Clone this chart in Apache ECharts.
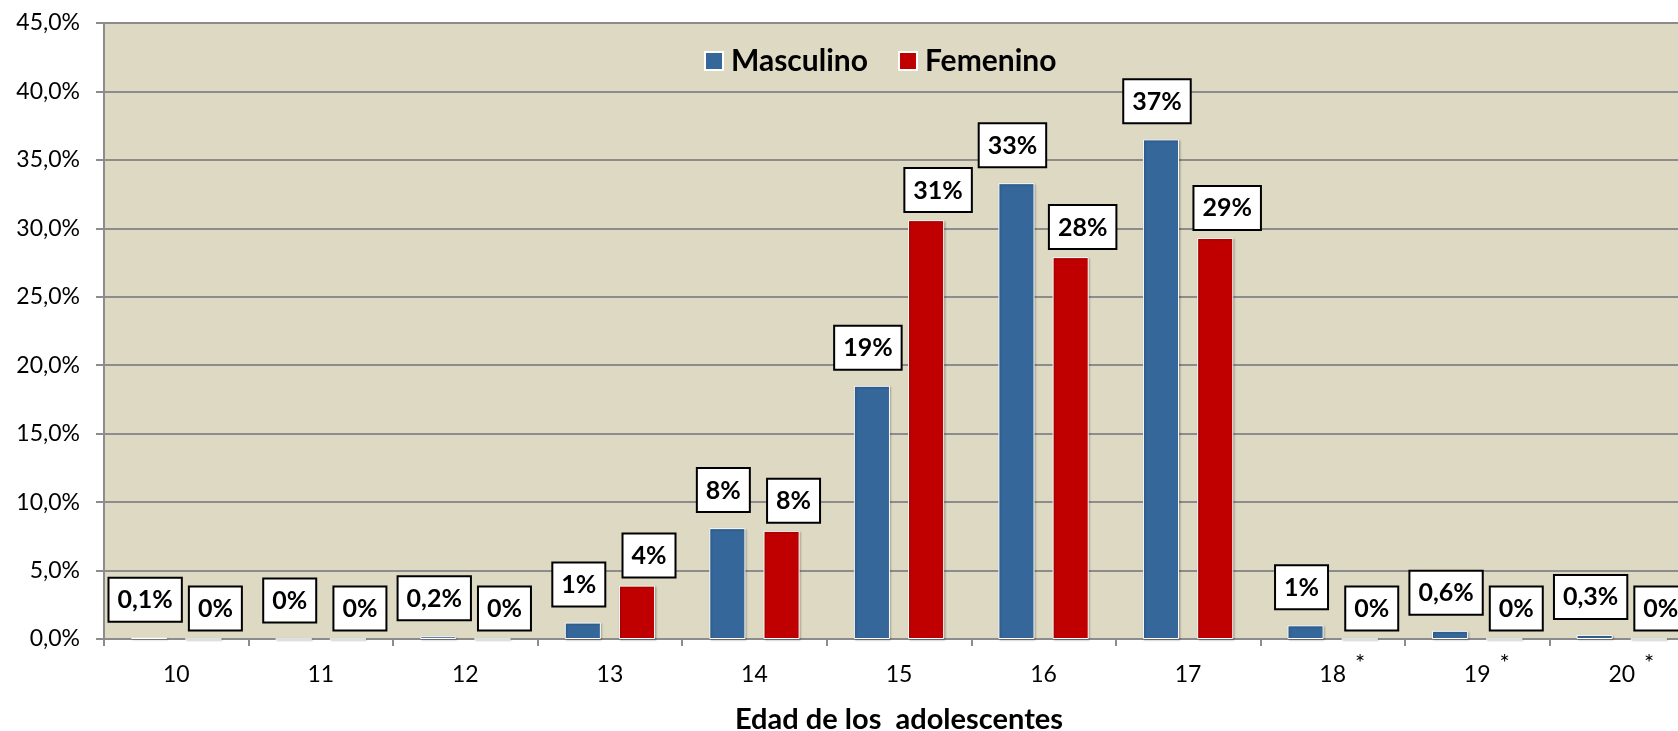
<!DOCTYPE html>
<html>
<head>
<meta charset="utf-8">
<script src="https://cdn.jsdelivr.net/npm/echarts@6/dist/echarts.min.js"></script>
<style>
  html, body { margin: 0; padding: 0; background: #fff; }
  #chart { width: 1678px; height: 731px; }
</style>
</head>
<body>
<div id="chart"></div>
<script>
// datos
const edades = ['10', '11', '12', '13', '14', '15', '16', '17', '18', '19', '20']
const edadesConAsterisco = ['18', '19', '20']
const masculino = [0.1, 0, 0.2, 1.2, 8.1, 18.5, 33.3, 36.5, 1.0, 0.6, 0.3]
const femenino = [0, 0, 0, 3.9, 7.9, 30.6, 27.9, 29.3, 0, 0, 0]
const yTicks = { min: 0, max: 45, interval: 5 }

const fuente = 'Lato'
const gris = '#8c8c8c'

const formatoEtiqueta = (v) => {
    if (v === 0) return '0%'
    if (v < 1) return v.toFixed(1).replace('.', ',') + '%'
    return Math.round(v) + '%'
}

const etiqueta = (dist, dx) => ({
    show: true,
    position: 'top',
    distance: dist,
    offset: [dx, 0],
    formatter: (p) => formatoEtiqueta(p.value),
    fontFamily: fuente,
    fontWeight: 'bold',
    fontSize: 25,
    lineHeight: 27,
    color: '#000',
    backgroundColor: '#fff',
    borderColor: '#000',
    borderWidth: 2,
    padding: [8, 8, 7, 8]
})

const estiloBarra = (color) => ({
    color: color,
    borderColor: '#fff',
    borderWidth: 1,
    shadowColor: 'rgba(0,0,0,0.25)',
    shadowBlur: 2,
    shadowOffsetX: 1,
    shadowOffsetY: 1
})

const chart = echarts.init(document.getElementById('chart'))
const option = {
    backgroundColor: '#fff',
    animation: false,
    textStyle: { fontFamily: fuente },
    grid: {
        left: 104,
        right: -16,
        top: 23,
        bottom: 92,
        outerBoundsMode: 'none',
        show: true,
        backgroundColor: '#ddd9c3',
        borderWidth: 0
    },
    legend: {
        left: 699,
        top: 41,
        itemWidth: 18,
        itemHeight: 18,
        itemGap: 30,
        icon: 'rect',
        textStyle: {
            fontFamily: fuente,
            fontWeight: 'bold',
            fontSize: 30,
            color: '#000',
            padding: [0, 0, 0, 3]
        },
        data: ['Masculino', 'Femenino']
    },
    xAxis: {
        type: 'category',
        data: edades,
        name: 'Edad de los  adolescentes',
        nameLocation: 'middle',
        nameGap: 66,
        nameTextStyle: {
            fontFamily: fuente,
            fontWeight: 'bold',
            fontSize: 29,
            color: '#000'
        },
        axisLine: { show: true, lineStyle: { color: gris, width: 2 } },
        axisTick: { show: true, length: 7, lineStyle: { color: gris, width: 2 } },
        axisLabel: {
            margin: 12,
            fontFamily: fuente,
            fontSize: 23,
            color: '#000',
            formatter: (v) => '{g|}' + v + '{s|' + (edadesConAsterisco.includes(v) ? '*' : ' ') + '}',
            rich: {
                g: { width: 28 },
                s: {
                    width: 28,
                    align: 'center',
                    fontSize: 24,
                    color: '#000',
                    verticalAlign: 'bottom',
                    padding: [0, 0, 24, 0]
                }
            }
        }
    },
    yAxis: {
        type: 'value',
        min: yTicks.min,
        max: yTicks.max,
        interval: yTicks.interval,
        axisLine: { show: true, lineStyle: { color: gris, width: 2 } },
        axisTick: { show: true, length: 8, lineStyle: { color: gris, width: 2 } },
        splitLine: { show: true, lineStyle: { color: gris, width: 2 } },
        axisLabel: {
            margin: 24,
            fontFamily: fuente,
            fontSize: 23,
            color: '#000',
            formatter: (v) => v.toFixed(1).replace('.', ',') + '%'
        }
    },
    series: [
        {
            name: 'Masculino',
            type: 'bar',
            barWidth: '25%',
            barGap: '50%',
            itemStyle: estiloBarra('#35679a'),
            label: etiqueta(17, -4),
            data: masculino
        },
        {
            name: 'Femenino',
            type: 'bar',
            barWidth: '25%',
            barGap: '50%',
            itemStyle: estiloBarra('#c00000'),
            label: etiqueta(9, 12),
            data: femenino
        }
    ]
}
chart.setOption(option)
</script>
</body>
</html>
